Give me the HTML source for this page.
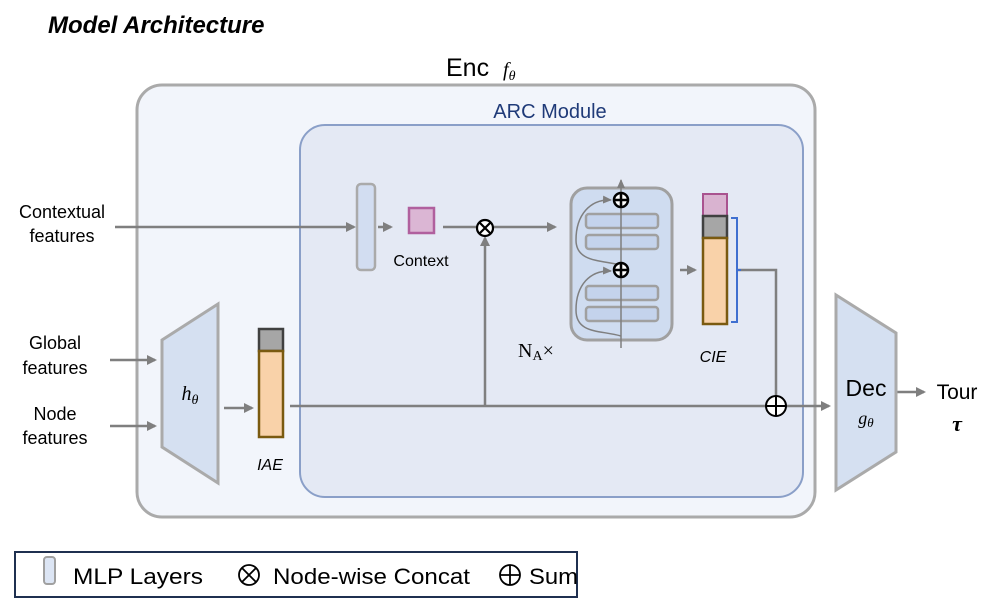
<!DOCTYPE html>
<html><head><meta charset="utf-8"><style>
html,body{margin:0;padding:0;background:#fff;}
svg{display:block;font-family:"Liberation Sans",sans-serif;}
</style></head><body>
<svg width="996" height="613" viewBox="0 0 996 613" xmlns="http://www.w3.org/2000/svg">
<defs>
<marker id="ar" markerWidth="10" markerHeight="10" refX="8" refY="5" orient="auto" markerUnits="userSpaceOnUse">
<path d="M0,0 L10,5 L0,10 z" fill="#7f7f7f"/></marker>
<marker id="ar2" markerWidth="10" markerHeight="10" refX="8" refY="5" orient="auto" markerUnits="userSpaceOnUse">
<path d="M0,1 L9,5 L0,9 z" fill="#7f7f7f"/></marker>
</defs>
<text x="48" y="33" font-size="24" font-weight="bold" font-style="italic">Model Architecture</text>
<text x="446" y="76" font-size="25">Enc</text>
<text x="503" y="76" font-size="20" font-style="italic" font-family="Liberation Serif,serif">f<tspan font-size="14" dy="4">θ</tspan></text>
<rect x="137" y="85" width="678" height="432" rx="25" fill="#f2f5fb" stroke="#aaaaaa" stroke-width="3"/>
<rect x="300" y="125" width="503" height="372" rx="25" fill="#e4e9f4" stroke="#8a9fc8" stroke-width="2"/>
<text x="550" y="118" font-size="20" fill="#1f3a78" text-anchor="middle">ARC Module</text>

<text x="62" y="218" font-size="18" text-anchor="middle">Contextual</text>
<text x="62" y="242" font-size="18" text-anchor="middle">features</text>
<text x="55" y="349" font-size="18" text-anchor="middle">Global</text>
<text x="55" y="374" font-size="18" text-anchor="middle">features</text>
<text x="55" y="420" font-size="18" text-anchor="middle">Node</text>
<text x="55" y="444" font-size="18" text-anchor="middle">features</text>

<g stroke="#7f7f7f" stroke-width="2.5" fill="none">
<line x1="115" y1="227" x2="354" y2="227" marker-end="url(#ar)"/>
<line x1="378" y1="227" x2="391" y2="227" marker-end="url(#ar)"/>
<line x1="443" y1="227" x2="477" y2="227"/>
<line x1="494" y1="227" x2="555" y2="227" marker-end="url(#ar)"/>
<line x1="485" y1="406" x2="485" y2="238" marker-end="url(#ar)"/>
<line x1="110" y1="360" x2="155" y2="360" marker-end="url(#ar)"/>
<line x1="110" y1="426" x2="155" y2="426" marker-end="url(#ar)"/>
<line x1="224" y1="408" x2="252" y2="408" marker-end="url(#ar)"/>
<line x1="290" y1="406" x2="766" y2="406"/>
<line x1="786" y1="406" x2="829" y2="406" marker-end="url(#ar)"/>
<line x1="680" y1="270" x2="695" y2="270" marker-end="url(#ar)"/>
<polyline points="738,270 776,270 776,396"/>
<line x1="897" y1="392" x2="924" y2="392" marker-end="url(#ar)"/>
</g>

<rect x="357" y="184" width="18" height="86" rx="4" fill="#d2ddf1" stroke="#aaaaaa" stroke-width="2.5"/>
<rect x="409" y="208" width="25" height="25" fill="#dbb6d4" stroke="#b0609e" stroke-width="2.5"/>
<text x="421" y="266" font-size="16" text-anchor="middle">Context</text>
<circle cx="485" cy="228" r="8" fill="#fff" stroke="#000" stroke-width="2.2"/>
<path d="M479.5,222.5 L490.5,233.5 M490.5,222.5 L479.5,233.5" stroke="#000" stroke-width="2.2"/>

<rect x="571" y="188" width="101" height="152" rx="16" fill="#cfdcf0" stroke="#a0a0a0" stroke-width="3"/>
<g fill="#c4d3ec" stroke="#a0a0a0" stroke-width="2.5">
<rect x="586" y="214" width="72" height="14" rx="3"/>
<rect x="586" y="235" width="72" height="14" rx="3"/>
<rect x="586" y="286" width="72" height="14" rx="3"/>
<rect x="586" y="307" width="72" height="14" rx="3"/>
</g>
<line x1="621" y1="348" x2="621" y2="180" stroke="#7f7f7f" stroke-width="1.5" marker-end="url(#ar2)"/>
<path d="M621,336 C600,330 576,334 576,310 C576,285 590,270 611,271" stroke="#7f7f7f" stroke-width="1.5" fill="none" marker-end="url(#ar2)"/>
<path d="M621,265 C600,260 576,262 576,240 C576,215 590,199 611,200" stroke="#7f7f7f" stroke-width="1.5" fill="none" marker-end="url(#ar2)"/>
<g fill="#fff" stroke="#000" stroke-width="2.5">
<circle cx="621" cy="200" r="7"/><circle cx="621" cy="270" r="7"/></g>
<path d="M614,200 H628 M621,193 V207 M614,270 H628 M621,263 V277" stroke="#000" stroke-width="2.5"/>
<text x="518" y="357" font-size="20" font-family="Liberation Serif,serif">N<tspan font-size="14" dy="3">A</tspan><tspan dy="-3">×</tspan></text>

<rect x="703" y="194" width="24" height="22" fill="#d9b3d0" stroke="#a9538f" stroke-width="2"/>
<rect x="703" y="216" width="24" height="22" fill="#a6a6a6" stroke="#404040" stroke-width="2.5"/>
<rect x="703" y="238" width="24" height="86" fill="#f9d2a9" stroke="#7a5a10" stroke-width="2.5"/>
<path d="M731,218 H737 V322 H731 M737,270 H741" stroke="#3f6fd0" stroke-width="2" fill="none"/>
<text x="713" y="362" font-size="16" font-style="italic" text-anchor="middle">CIE</text>

<polygon points="162,340 218,304 218,483 162,447" fill="#d5e0f1" stroke="#aaaaaa" stroke-width="3"/>
<text x="190" y="400" font-size="20" font-style="italic" text-anchor="middle" font-family="Liberation Serif,serif">h<tspan font-size="14" dy="4">θ</tspan></text>
<rect x="259" y="329" width="24" height="22" fill="#a6a6a6" stroke="#404040" stroke-width="2.5"/>
<rect x="259" y="351" width="24" height="86" fill="#f9d2a9" stroke="#7a5a10" stroke-width="2.5"/>
<text x="270" y="470" font-size="16" font-style="italic" text-anchor="middle">IAE</text>

<circle cx="776" cy="406" r="10" fill="#fff" stroke="#000" stroke-width="2"/>
<path d="M766,406 H786 M776,396 V416" stroke="#000" stroke-width="2"/>

<polygon points="836,295 896,333 896,452 836,490" fill="#d5e0f1" stroke="#aaaaaa" stroke-width="3"/>
<text x="866" y="396" font-size="23" text-anchor="middle">Dec</text>
<text x="866" y="424" font-size="18" font-style="italic" text-anchor="middle" font-family="Liberation Serif,serif">g<tspan font-size="13" dy="3">θ</tspan></text>
<text x="957" y="399" font-size="21" text-anchor="middle">Tour</text>
<text x="957" y="431" font-size="22" font-weight="bold" font-style="italic" text-anchor="middle" font-family="Liberation Serif,serif">τ</text>

<rect x="15" y="552" width="562" height="45" fill="#fff" stroke="#1f3050" stroke-width="2"/>
<rect x="44" y="557" width="11" height="27" rx="3" fill="#dce5f4" stroke="#a0a0a0" stroke-width="2"/>
<text x="73" y="584" font-size="22" textLength="130" lengthAdjust="spacingAndGlyphs">MLP Layers</text>
<circle cx="249" cy="575" r="10" fill="none" stroke="#000" stroke-width="1.8"/>
<path d="M242,568 L256,582 M256,568 L242,582" stroke="#000" stroke-width="1.8"/>
<text x="273" y="584" font-size="22" textLength="197" lengthAdjust="spacingAndGlyphs">Node-wise Concat</text>
<circle cx="510" cy="575" r="10" fill="none" stroke="#000" stroke-width="1.8"/>
<path d="M500,575 H520 M510,565 V585" stroke="#000" stroke-width="1.8"/>
<text x="529" y="584" font-size="22" textLength="49" lengthAdjust="spacingAndGlyphs">Sum</text>
</svg>
</body></html>
